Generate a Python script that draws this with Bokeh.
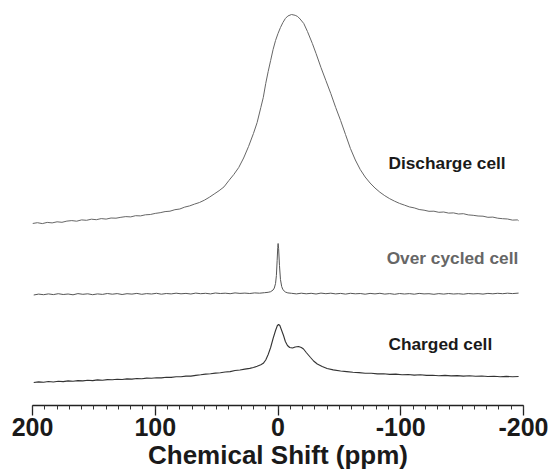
from bokeh.plotting import figure
from bokeh.models import Range1d, SingleIntervalTicker, ColumnDataSource, PrintfTickFormatter
from bokeh.core.properties import value
from bokeh.embed import file_html
from bokeh.resources import INLINE

# ---- data (ppm, intensity in display units, traces already offset) ----
discharge_ppm = [200, 196, 192, 188, 184, 180, 176, 172, 168, 164, 160, 156, 152, 148, 144, 140,
                 136, 132, 128, 124, 120, 116, 112, 108, 104, 100, 96, 92, 88, 84, 80, 76, 72, 68,
                 64, 60, 56, 52, 48, 44, 40, 36, 32, 28, 24, 20, 17, 14, 12, 10, 8, 6, 4, 2, 0,
                 -2, -4, -6, -8, -11, -14, -16, -18, -21, -24, -28, -31, -35, -39, -43, -47, -51,
                 -55, -59, -63, -67, -71, -75, -79, -83, -87, -91, -95, -99, -103, -107, -111,
                 -115, -119, -123, -127, -131, -135, -139, -143, -147, -151, -155, -159, -163,
                 -167, -171, -175, -179, -183, -187, -191, -195, -196]
discharge_int = [182.0, 182.8, 181.9, 183.1, 182.6, 183.7, 183.2, 184.4, 184.9, 184.3, 185.6, 185.2,
                 186.3, 185.8, 186.9, 186.4, 187.5, 187.3, 188.2, 188.9, 188.6, 189.8, 189.6, 190.7,
                 191.0, 192.1, 192.8, 193.9, 194.3, 195.8, 196.5, 198.4, 199.6, 201.4, 203.0, 205.3,
                 208.2, 211.5, 214.8, 218.6, 225.0, 231.0, 238.0, 247.5, 259.0, 272.0, 283.0, 298.0,
                 308.0, 322.0, 334.0, 345.0, 356.0, 365.0, 372.0, 378.0, 383.0, 387.0, 389.5, 391.0,
                 390.2, 389.0, 386.5, 382.0, 374.0, 362.0, 352.0, 338.0, 325.0, 312.0, 298.0, 285.0,
                 271.0, 257.0, 245.5, 236.0, 228.5, 222.5, 217.5, 213.3, 209.8, 206.8, 204.3, 202.1,
                 200.4, 198.6, 197.6, 196.0, 195.3, 194.2, 194.3, 193.2, 193.5, 192.4, 192.6, 191.5,
                 191.8, 190.6, 190.2, 189.5, 189.3, 188.2, 188.4, 187.3, 186.8, 186.5, 185.4, 185.6,
                 184.8]

overcycled_ppm = [199, 195, 191, 187, 183, 179, 175, 171, 167, 163, 159, 155, 151, 147, 143, 139,
                  135, 131, 127, 123, 119, 115, 111, 107, 103, 99, 95, 91, 87, 83, 79, 75, 71, 67,
                  63, 59, 55, 51, 47, 43, 39, 35, 31, 27, 23, 19, 15, 11, 8, 6, 4, 3, 2, 1.3, 0.7,
                  0.2, -0.1, -0.5, -1.2, -2, -3, -4, -6, -8, -11, -15, -19, -23, -27, -31, -35,
                  -39, -43, -47, -51, -55, -59, -63, -67, -71, -75, -79, -83, -87, -91, -95, -99,
                  -103, -107, -111, -115, -119, -123, -127, -131, -135, -139, -143, -147, -151,
                  -155, -159, -163, -167, -171, -175, -179, -183, -187, -191, -196]
overcycled_int = [110.5, 111.4, 110.8, 111.6, 110.9, 111.8, 111.0, 111.5, 110.7, 111.9, 111.2,
                  111.7, 110.8, 111.6, 111.1, 112.0, 111.3, 111.9, 111.0, 111.8, 111.4, 112.1,
                  111.2, 111.9, 111.5, 112.2, 111.3, 112.0, 111.6, 112.3, 111.7, 112.1, 111.5,
                  112.4, 111.8, 112.2, 111.6, 112.5, 112.0, 112.3, 111.8, 112.6, 112.1, 112.4,
                  112.0, 112.6, 112.3, 112.8, 113.2, 113.8, 115.5, 117.5, 122.0, 130.0, 145.0,
                  158.0, 162.0, 157.0, 140.0, 126.0, 119.0, 115.8, 113.5, 112.6, 112.2, 111.6,
                  112.3, 111.7, 112.2, 111.5, 112.4, 111.8, 112.3, 111.6, 112.1, 111.4, 112.2,
                  111.7, 112.0, 111.3, 112.1, 111.6, 112.2, 111.4, 111.9, 111.2, 112.0, 111.5,
                  111.9, 111.3, 112.1, 111.6, 111.8, 111.2, 111.9, 111.4, 112.0, 111.5, 111.8,
                  111.3, 112.0, 111.6, 111.9, 111.4, 112.1, 111.7, 112.2, 111.8, 112.3, 111.9,
                  112.4]

charged_ppm = [199, 195, 191, 187, 183, 179, 175, 171, 167, 163, 159, 155, 151, 147, 143, 139,
               135, 131, 127, 123, 119, 115, 111, 107, 103, 99, 95, 91, 87, 83, 79, 75, 71, 67,
               63, 59, 55, 51, 47, 43, 39, 35, 31, 27, 23, 20, 17, 14, 12, 10, 8, 6, 4, 2, 0.5,
               -0.5, -1.5, -3, -4.5, -6, -7.7, -9.5, -11.8, -14, -16.7, -19, -20.8, -23, -26.5,
               -29, -32, -36, -40, -45, -51, -56, -61, -66, -71, -76, -81, -86, -91, -96, -101,
               -106, -111, -116, -121, -126, -131, -136, -141, -146, -151, -156, -161, -166,
               -171, -176, -181, -186, -191, -196]
charged_int = [23.0, 23.6, 23.2, 24.0, 23.5, 24.3, 23.9, 24.6, 24.2, 24.9, 24.6, 25.3, 24.9, 25.6,
               25.2, 25.9, 25.7, 26.3, 26.0, 26.6, 26.4, 27.0, 26.7, 27.4, 27.2, 27.8, 27.6, 28.3,
               28.1, 28.8, 28.7, 29.4, 29.4, 30.1, 30.7, 31.4, 31.7, 32.4, 32.8, 33.5, 33.9, 35.0,
               35.5, 36.4, 37.1, 38.0, 39.3, 40.8, 42.2, 45.5, 51.0, 58.0, 67.0, 75.0, 80.0, 81.0,
               80.0, 75.0, 70.0, 64.0, 60.0, 58.0, 57.5, 58.5, 59.0, 58.0, 56.5, 53.0, 48.0, 44.5,
               41.5, 39.0, 37.0, 35.6, 34.5, 33.9, 33.2, 32.9, 32.3, 32.2, 31.6, 31.8, 31.1, 31.4,
               30.8, 31.0, 30.4, 30.7, 30.1, 30.3, 29.8, 30.1, 29.6, 29.9, 29.4, 29.7, 29.2, 29.5,
               29.0, 29.3, 28.8, 29.1, 28.7, 29.0]

label_texts = ["Discharge cell", "Over cycled cell", "Charged cell"]
label_ppm = [-90, -88.5, -90]
label_int = [243, 147.5, 61.5]

FONT = "Liberation Sans"

p = figure(width=550, height=472, x_range=Range1d(200, -200), y_range=Range1d(0, 405),
           output_backend="svg", toolbar_location=None, y_axis_location=None,
           min_border_left=32, min_border_right=27, min_border_top=0, min_border_bottom=67)
p.outline_line_color = None
p.grid.visible = False
p.background_fill_color = "white"
p.border_fill_color = "white"

p.line(discharge_ppm, discharge_int, line_color="#666666", line_width=1.0)
p.line(overcycled_ppm, overcycled_int, line_color="#555555", line_width=1.0)
p.line(charged_ppm, charged_int, line_color="#333333", line_width=1.1)

src = ColumnDataSource(dict(x=label_ppm, y=label_int, t=label_texts,
                            c=["#1a1a1a", "#666666", "#1a1a1a"]))
p.text(x="x", y="y", text="t", source=src, text_color="c", text_font_size="17.3px",
       text_font=value(FONT), text_font_style="bold", text_align="left",
       text_baseline="middle")

ax = p.xaxis[0]
ax.ticker = SingleIntervalTicker(interval=100, num_minor_ticks=10)
ax.formatter = PrintfTickFormatter(format="%d")
ax.axis_label = "Chemical Shift (ppm)"
ax.axis_label_text_font = FONT
ax.axis_label_text_font_style = "bold"
ax.axis_label_text_font_size = "26px"
ax.axis_label_text_color = "#1a1a1a"
ax.axis_label_standoff = 1
ax.major_label_text_font = FONT
ax.major_label_text_font_style = "bold"
ax.major_label_text_font_size = "25px"
ax.major_label_text_color = "#1a1a1a"
ax.major_label_standoff = 2
ax.axis_line_color = "#222222"
ax.axis_line_width = 1.3
ax.major_tick_line_color = "#222222"
ax.major_tick_line_width = 1.3
ax.major_tick_out = 10
ax.major_tick_in = 0
ax.minor_tick_line_color = "#333333"
ax.minor_tick_out = 4
ax.minor_tick_in = 0

open("out.html", "w").write(file_html(p, INLINE))
